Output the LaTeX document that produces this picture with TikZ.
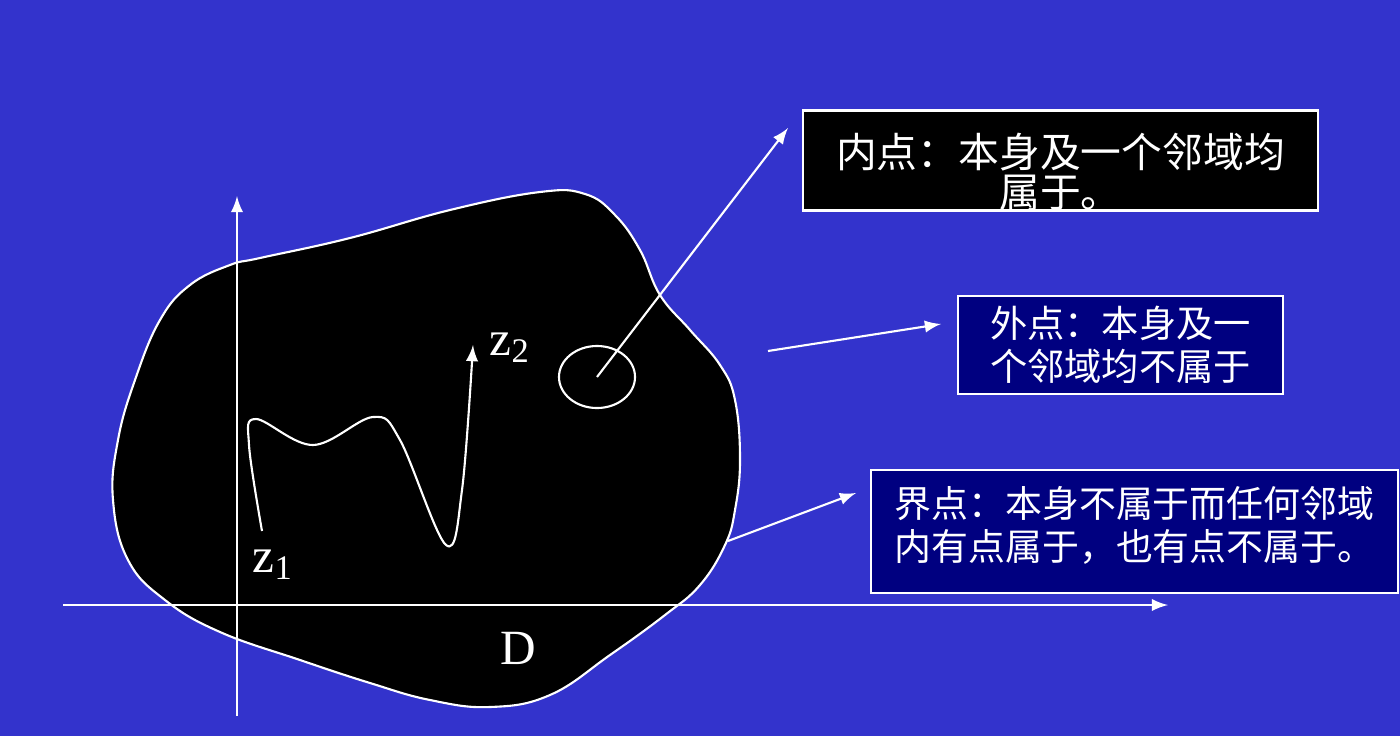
\documentclass[tikz,border=0pt]{standalone}
\usepackage{fontspec}
\setmainfont{Liberation Serif}
\newfontfamily\cjk{Noto Sans CJK SC}
\usepackage{tikz}
\usetikzlibrary{arrows}
\usetikzlibrary{shapes}
\definecolor{slideblue}{RGB}{51,51,204}
\definecolor{boxnavy}{RGB}{0,0,128}

\begin{document}
\begin{tikzpicture}[x=0.01cm,y=-0.01cm]
\tikzset{wline/.style={draw=white, line width=0.6pt}}
\tikzset{warrow/.style={wline, -latex}}
\tikzset{infobox/.style={draw=white, line width=0.7pt, text=white, inner sep=0pt}}
\tikzset{mathlabel/.style={text=white, font=\fontsize{14}{16}\selectfont, inner sep=0pt}}

\fill[slideblue] (0,0) rectangle (1400,736);
\useasboundingbox (0,0) rectangle (1400,736);

% region D
\draw[wline, fill=black] plot[smooth cycle, tension=0.7] coordinates {
  (260,258) (350,238) (450,210) (540,192) (585,194) (615,215) (640,250)
  (660,295) (690,330) (720,365) (735,400) (740,460) (735,510) (725,545)
  (700,585) (665,615) (610,655) (550,695) (490,707) (430,700) (370,683)
  (300,660) (220,632) (165,600) (128,560) (113,500) (118,440) (135,380)
  (160,320) (190,285) (230,265)};

% axes
\coordinate (xstart) at (63,605);
\coordinate (xend) at (1168,605);
\coordinate (ystart) at (237,716);
\coordinate (yend) at (237,196);
\draw[warrow] (xstart) -- (xend);
\draw[warrow] (ystart) -- (yend);

% curve z1 -> z2
\draw[warrow] plot[smooth, tension=0.6] coordinates {
  (262,531) (249,445) (256,419) (313,445) (373,417) (400,440)
  (446,545) (462,490) (473,345)};
\node[mathlabel, anchor=base west] (z1) at (252,572) {z\textsubscript{1}};
\node[mathlabel, anchor=base west] (z2) at (489,355) {z\textsubscript{2}};
\node[mathlabel] (regD) at (518,648) {D};

% neighbourhood
\node[wline, ellipse, minimum width=0.76cm, minimum height=0.62cm] (nbhd) at (597,377) {};

% boxes
\node[infobox, fill=black, minimum width=5.15cm, minimum height=0.99cm,
  align=center, text height=27.5pt, font=\cjk\fontsize{11.6}{11.4}\selectfont]
  (inner) at (1060.5,160.5) {内点：本身及一个邻域均\\属于。};
\node[infobox, fill=boxnavy, minimum width=3.25cm, minimum height=0.98cm,
  align=center, font=\cjk\fontsize{10.6}{12.4}\selectfont]
  (outer) at (1120.5,345) {外点：本身及一\\个邻域均不属于};
\node[infobox, fill=boxnavy, minimum width=5.27cm, minimum height=1.23cm,
  align=left, text depth=4.4pt, font=\cjk\fontsize{10.5}{12.2}\selectfont]
  (bound) at (1134.5,531.5) {界点：本身不属于而任何邻域\\内有点属于，也有点不属于。};

% pointers
\coordinate (innertip) at (788,128);
\coordinate (outstart) at (768,351);
\coordinate (outtip) at (941,324);
\coordinate (bdstart) at (728,541);
\coordinate (bdtip) at (856,493);
\draw[warrow] (nbhd.center) -- (innertip);
\draw[warrow] (outstart) -- (outtip);
\draw[warrow] (bdstart) -- (bdtip);

\end{tikzpicture}
\end{document}
